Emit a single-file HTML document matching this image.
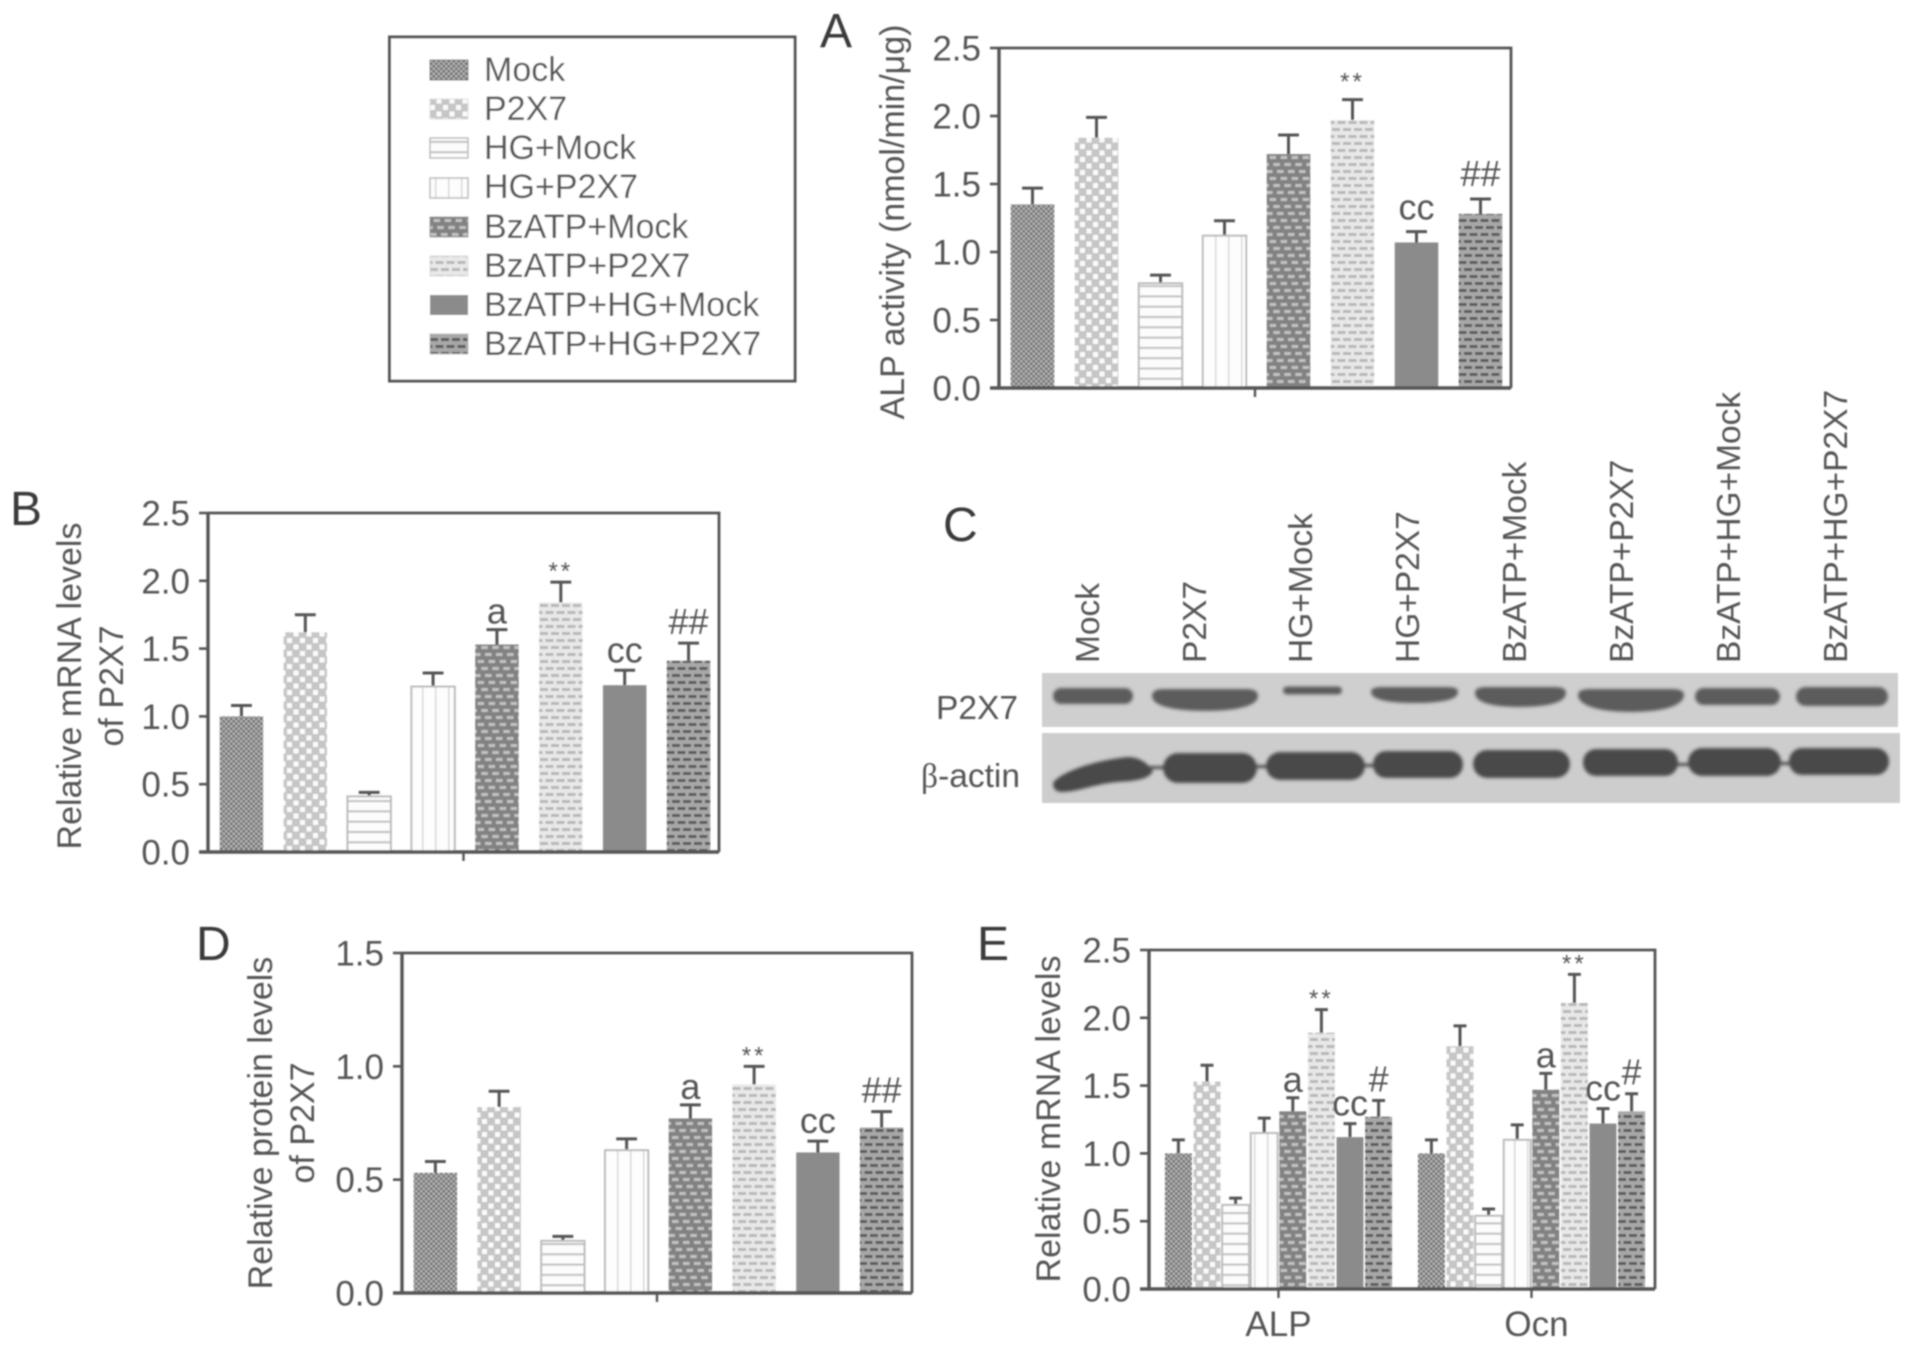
<!DOCTYPE html>
<html lang="en">
<head>
<meta charset="utf-8">
<title>P2X7 multi-panel bar chart figure</title>
<style>
html,body{margin:0;padding:0;background:#fff;width:1913px;height:1348px;overflow:hidden}
svg{display:block}
text{font-family:"Liberation Sans",sans-serif;fill:#555}
.tick{font-size:35px;text-anchor:end}
.title{font-size:34px;text-anchor:middle}
.letter{font-size:48px;fill:#3a3a3a}
.leg{font-size:34px}
.lane{font-size:33.5px}
.note{font-size:36px;text-anchor:middle}
.star{font-size:24px;text-anchor:middle;letter-spacing:3px}
</style>
</head>
<body>
<svg id="figure" width="1913" height="1348" viewBox="0 0 1913 1348" xmlns="http://www.w3.org/2000/svg">
<defs>
<filter id="soft" x="-2%" y="-2%" width="104%" height="104%"><feGaussianBlur stdDeviation="0.8"/></filter>
<filter id="bandblur" x="-20%" y="-40%" width="140%" height="180%"><feGaussianBlur stdDeviation="1.6"/></filter>
<pattern id="p0" width="5" height="5" patternUnits="userSpaceOnUse"><rect width="5" height="5" fill="#6f6f6f"/><rect x="0" y="0" width="2.5" height="2.5" fill="#b4b4b4"/><rect x="2.5" y="2.5" width="2.5" height="2.5" fill="#b4b4b4"/></pattern>
<pattern id="p1" width="13" height="13" patternUnits="userSpaceOnUse"><rect width="13" height="13" fill="#c6c6c6"/><rect x="1" y="1" width="5" height="5" fill="#fbfbfb"/><rect x="7.5" y="7.5" width="5" height="5" fill="#fbfbfb"/></pattern>
<pattern id="p2" width="10.3" height="10.3" patternUnits="userSpaceOnUse"><rect width="10.3" height="10.3" fill="#fcfcfc"/><rect y="7" width="10.3" height="2" fill="#c0c0c0"/></pattern>
<pattern id="p3" width="13" height="10" patternUnits="userSpaceOnUse"><rect width="13" height="10" fill="#fdfdfd"/><rect x="6" width="1.5" height="10" fill="#d8d8d8"/></pattern>
<pattern id="p4" width="11" height="21" patternUnits="userSpaceOnUse"><rect width="11" height="21" fill="#828282"/><rect x="1" y="2" width="6.5" height="3" fill="#c2c2c2"/><rect x="4.67" y="9" width="6.33" height="3" fill="#c2c2c2"/><rect x="8.33" y="16" width="2.67" height="3" fill="#c2c2c2"/><rect x="0" y="16" width="3.83" height="3" fill="#c2c2c2"/></pattern>
<pattern id="p5" width="11" height="14" patternUnits="userSpaceOnUse"><rect width="11" height="14" fill="#e8e8e8"/><rect x="1" y="2" width="8" height="3" fill="#b8b8b8"/><rect x="6.5" y="9" width="4.5" height="3" fill="#b8b8b8"/><rect x="0" y="9" width="3.5" height="3" fill="#b8b8b8"/></pattern>
<pattern id="p6" width="10" height="10" patternUnits="userSpaceOnUse"><rect width="10" height="10" fill="#8b8b8b"/></pattern>
<pattern id="p7" width="11" height="14" patternUnits="userSpaceOnUse"><rect width="11" height="14" fill="#a8a8a8"/><rect x="1" y="2" width="8" height="3" fill="#5c5c5c"/><rect x="6.5" y="9" width="4.5" height="3" fill="#5c5c5c"/><rect x="0" y="9" width="3.5" height="3" fill="#5c5c5c"/></pattern>
</defs>

<g id="root" filter="url(#soft)">
  <g>
    <rect x="389.5" y="37" width="405.5" height="344" fill="#fff" stroke="#555" stroke-width="3"/>
    <rect x="430" y="60" width="38" height="20" fill="url(#p0)" stroke="#777"/>
    <text class="leg" x="484" y="81">Mock</text>
    <rect x="430" y="99" width="38" height="20" fill="url(#p1)" stroke="#ddd"/>
    <text class="leg" x="484" y="120">P2X7</text>
    <rect x="430" y="138" width="38" height="20" fill="url(#p2)" stroke="#bbb" stroke-width="1.5"/>
    <text class="leg" x="484" y="159">HG+Mock</text>
    <rect x="430" y="178" width="38" height="20" fill="url(#p3)" stroke="#bbb" stroke-width="1.5"/>
    <text class="leg" x="484" y="198">HG+P2X7</text>
    <rect x="430" y="217" width="38" height="20" fill="url(#p4)" stroke="#999"/>
    <text class="leg" x="484" y="238">BzATP+Mock</text>
    <rect x="430" y="256" width="38" height="20" fill="url(#p5)" stroke="#ddd"/>
    <text class="leg" x="484" y="277">BzATP+P2X7</text>
    <rect x="430" y="295" width="38" height="20" fill="#8b8b8b"/>
    <text class="leg" x="484" y="316">BzATP+HG+Mock</text>
    <rect x="430" y="334" width="38" height="20" fill="url(#p7)" stroke="#bbb"/>
    <text class="leg" x="484" y="355">BzATP+HG+P2X7</text>
  </g>

  <text class="letter" x="820" y="47">A</text>
  <text class="letter" x="10" y="525">B</text>
  <text class="letter" x="943" y="541">C</text>
  <text class="letter" x="196" y="960">D</text>
  <text class="letter" x="977" y="960">E</text>

  <text class="title" transform="translate(904,222) rotate(-90)">ALP activity (nmol/min/μg)</text>
  <text class="title" transform="translate(81,686) rotate(-90)">Relative mRNA levels</text>
  <text class="title" transform="translate(123,686) rotate(-90)">of P2X7</text>
  <text class="title" transform="translate(272,1123) rotate(-90)">Relative protein levels</text>
  <text class="title" transform="translate(314,1123) rotate(-90)">of P2X7</text>
  <text class="title" transform="translate(1060,1119) rotate(-90)">Relative mRNA levels</text>

  <g>
    <text class="lane" transform="translate(1099,663) rotate(-90)">Mock</text>
    <text class="lane" transform="translate(1206,663) rotate(-90)">P2X7</text>
    <text class="lane" transform="translate(1312,663) rotate(-90)">HG+Mock</text>
    <text class="lane" transform="translate(1419,663) rotate(-90)">HG+P2X7</text>
    <text class="lane" transform="translate(1526,663) rotate(-90)">BzATP+Mock</text>
    <text class="lane" transform="translate(1633,663) rotate(-90)">BzATP+P2X7</text>
    <text class="lane" transform="translate(1740,663) rotate(-90)">BzATP+HG+Mock</text>
    <text class="lane" transform="translate(1847,663) rotate(-90)">BzATP+HG+P2X7</text>
    <text class="lane" x="1018" y="719" text-anchor="end">P2X7</text>
    <text class="lane" x="1020" y="787" text-anchor="end"><tspan style="font-family:'Liberation Serif',serif">β</tspan>-actin</text>
    <rect x="1042" y="673" width="856" height="54" fill="#cfcfcf"/>
    <rect x="1042" y="733" width="858" height="70" fill="#cdcdcd"/>
    <g fill="#5c5c5c" filter="url(#bandblur)">
      <rect x="1053" y="688" width="80" height="16" rx="8"/>
      <path d="M1152 696 C1152 690 1158 689 1165 689 H1245 C1252 689 1258 690 1258 696 C1258 705 1240 711 1205 711 C1170 711 1152 705 1152 696 Z"/>
      <rect x="1283" y="686.5" width="59" height="8" rx="4"/>
      <path d="M1371 692 C1371 688 1376 687 1382 687 H1447 C1454 687 1458 688 1458 692 C1458 699 1445 703 1415 703 C1385 703 1371 699 1371 692 Z"/>
      <path d="M1475 693 C1475 688 1480 687 1487 687 H1554 C1561 687 1566 688 1566 693 C1566 702 1550 707 1520 707 C1490 707 1475 702 1475 693 Z"/>
      <path d="M1578 695 C1578 690 1584 689 1591 689 H1671 C1678 689 1684 690 1684 695 C1684 705 1665 712 1631 712 C1597 712 1578 705 1578 695 Z"/>
      <rect x="1695" y="688" width="85" height="17" rx="8.5"/>
      <rect x="1796" y="687" width="92" height="19" rx="9.5"/>
    </g>
    <g fill="#484848" filter="url(#bandblur)">
      <path d="M1053 783 C1060 772 1095 760 1128 757 C1142 757 1150 766 1153 771 C1150 778 1140 781 1118 782 C1095 784 1078 792 1062 792 C1055 792 1053 788 1053 783 Z"/>
      <rect x="1163" y="753" width="94" height="30" rx="15"/>
      <rect x="1266" y="752" width="99" height="28" rx="14"/>
      <rect x="1373" y="751" width="90" height="27" rx="13"/>
      <rect x="1473" y="750" width="97" height="28" rx="14"/>
      <rect x="1583" y="749" width="95" height="27" rx="13"/>
      <rect x="1688" y="748" width="93" height="28" rx="14"/>
      <rect x="1789" y="748" width="100" height="27" rx="13"/>
      <rect x="1150" y="766" width="16" height="3"/>
      <rect x="1254" y="765" width="15" height="3"/>
      <rect x="1362" y="764" width="14" height="3"/>
      <rect x="1676" y="763" width="14" height="3"/>
      <rect x="1778" y="762" width="14" height="3"/>
    </g>
  </g>

  <g id="charts"></g>
</g>
</svg>

<script>
const categories = ["Mock","P2X7","HG+Mock","HG+P2X7","BzATP+Mock","BzATP+P2X7","BzATP+HG+Mock","BzATP+HG+P2X7"];
const notes = ["","","","","a","**","cc","##"];
const notesA = ["","","","","","**","cc","##"];
const notesE = ["","","","","a","**","cc","#"];

const ticksA = ["0.0","0.5","1.0","1.5","2.0","2.5"];
const ticksB = ["0.0","0.5","1.0","1.5","2.0","2.5"];
const ticksD = ["0.0","0.5","1.0","1.5"];
const ticksE = ["0.0","0.5","1.0","1.5","2.0","2.5"];

const valuesA = [1.35,1.84,0.77,1.12,1.72,1.97,1.07,1.28];
const errorsA = [0.12,0.15,0.06,0.11,0.14,0.15,0.08,0.11];
const valuesB = [1.00,1.62,0.41,1.22,1.53,1.84,1.23,1.41];
const errorsB = [0.08,0.13,0.03,0.10,0.11,0.15,0.11,0.13];
const valuesD = [0.53,0.82,0.23,0.63,0.77,0.92,0.62,0.73];
const errorsD = [0.05,0.07,0.02,0.05,0.06,0.08,0.05,0.07];
const groupsE = ["ALP","Ocn"];
const valuesEAlp = [1.00,1.53,0.62,1.15,1.31,1.89,1.12,1.27];
const errorsEAlp = [0.10,0.12,0.05,0.11,0.10,0.17,0.10,0.12];
const valuesEOcn = [1.00,1.79,0.54,1.10,1.47,2.11,1.22,1.31];
const errorsEOcn = [0.10,0.15,0.05,0.11,0.12,0.21,0.11,0.13];

const SVGNS = "http://www.w3.org/2000/svg";
const chartsRoot = document.getElementById("charts");
const AXIS = "#555";

function make(parent, tag, attrs, text) {
  const node = document.createElementNS(SVGNS, tag);
  for (const key in attrs) node.setAttribute(key, attrs[key]);
  if (text !== undefined) node.textContent = text;
  parent.appendChild(node);
  return node;
}

function noteGap(label, panelId) {
  const extra = panelId === "a" ? 4 : 0;
  if (label === "**") return 3 + (panelId === "a" ? 7 : 0);
  if (label === "a") return 6;
  if (label === "cc") return 8 + extra;
  return 9 + extra;
}

function drawBar(group, panelId, label, xc, barW, value, err, note, yScale, base) {
  const top = yScale(value);
  const errTop = yScale(value + err);
  const idx = categories.indexOf(label);

  const errLine = make(group, "path", {
    d: "M" + xc + " " + top + "V" + errTop + "M" + (xc - barW * 0.24) + " " + errTop + "H" + (xc + barW * 0.24),
    fill: "none", stroke: "#555", "stroke-width": 3
  });
  
  

  const bar = make(group, "rect", {
    x: xc - barW / 2, y: top, width: barW, height: base - top,
    fill: "url(#p" + idx + ")",
    stroke: idx === 2 || idx === 3 ? "#bcbcbc" : "none",
    "stroke-width": 2
  });
  
  

  if (note) {
    const mark = make(group, "text", {
      x: xc, y: errTop - noteGap(note, panelId),
      class: note === "**" ? "star" : "note"
    }, note);
    
    
  }
}

function drawFrame(panelId, box, yMax, ticks) {
  const group = make(chartsRoot, "g", {});
  
  

  const yScale = function (v) { return box.bottom - (v / yMax) * (box.bottom - box.top); };

  const frame = make(group, "path", {
    d: "M" + box.right + " " + box.bottom + "V" + box.top + "H" + box.left,
    fill: "none", stroke: AXIS, "stroke-width": 2.8
  });
  
  

  ticks.forEach(function (t) {
    const y = yScale(parseFloat(t));
    const tick = make(group, "path", {
      d: "M" + (box.left - 9) + " " + y + "H" + box.left,
      stroke: AXIS, "stroke-width": 2.6, fill: "none"
    });
    
    

    const lab = make(group, "text", { x: box.left - 18, y: y + 12.5, class: "tick" }, t);
    
    
  });

  const yAxis = make(group, "path", {
    d: "M" + box.left + " " + box.top + "V" + box.bottom,
    stroke: AXIS, "stroke-width": 3.4, fill: "none"
  });
  
  

  return { group: group, yScale: yScale };
}

function drawXAxis(group, panelId, box, tickXs) {
  const xAxis = make(group, "path", {
    d: "M" + (box.left - 9) + " " + box.bottom + "H" + box.right,
    stroke: AXIS, "stroke-width": 3.4, fill: "none"
  });
  
  

  tickXs.forEach(function (x) {
    const tick = make(group, "path", {
      d: "M" + x + " " + box.bottom + "v9",
      stroke: AXIS, "stroke-width": 2.4, fill: "none"
    });
    
    
  });
}

function drawSinglePanel(panelId, box, yMax, ticks, values, errors, noteList) {
  const chart = drawFrame(panelId, box, yMax, ticks);
  const step = (box.right - box.left) / categories.length;
  categories.forEach(function (label, i) {
    const xc = box.left + (i + 0.5) * step + 1.5;
    drawBar(chart.group, panelId, label, xc, step * 0.68, values[i], errors[i], noteList[i], chart.yScale, box.bottom);
  });
  drawXAxis(chart.group, panelId, box, [(box.left + box.right) / 2]);
}

function drawGroupedPanel(panelId, box, yMax, ticks, groups, valueSets, errorSets, noteList) {
  const chart = drawFrame(panelId, box, yMax, ticks);
  const width = box.right - box.left;
  const step = 28.6;
  const centers = [];
  groups.forEach(function (name, g) {
    const center = box.left + (g + 0.5) * width / groups.length + 3;
    centers.push(center);
    categories.forEach(function (label, i) {
      const xc = center + (i - 3.5) * step;
      drawBar(chart.group, panelId + '-' + name.toLowerCase(), label, xc, step * 0.94, valueSets[g][i], errorSets[g][i], noteList[i], chart.yScale, box.bottom);
    });
    const lab = make(chart.group, "text", {
      x: center + g * 5, y: box.bottom + 47, class: "note", style: "font-size:35px"
    }, name);
    
    
  });
  drawXAxis(chart.group, panelId, box, centers);
}

drawSinglePanel("a", { left: 999, right: 1511, top: 48, bottom: 388 }, 2.5, ticksA, valuesA, errorsA, notesA);
drawSinglePanel("b", { left: 208, right: 719, top: 513, bottom: 852 }, 2.5, ticksB, valuesB, errorsB, notes);
drawSinglePanel("d", { left: 402, right: 912, top: 953, bottom: 1293 }, 1.5, ticksD, valuesD, errorsD, notes);
drawGroupedPanel("e", { left: 1149, right: 1655, top: 950, bottom: 1289 }, 2.5, ticksE, groupsE, [valuesEAlp, valuesEOcn], [errorsEAlp, errorsEOcn], notesE);
</script>
</body>
</html>
